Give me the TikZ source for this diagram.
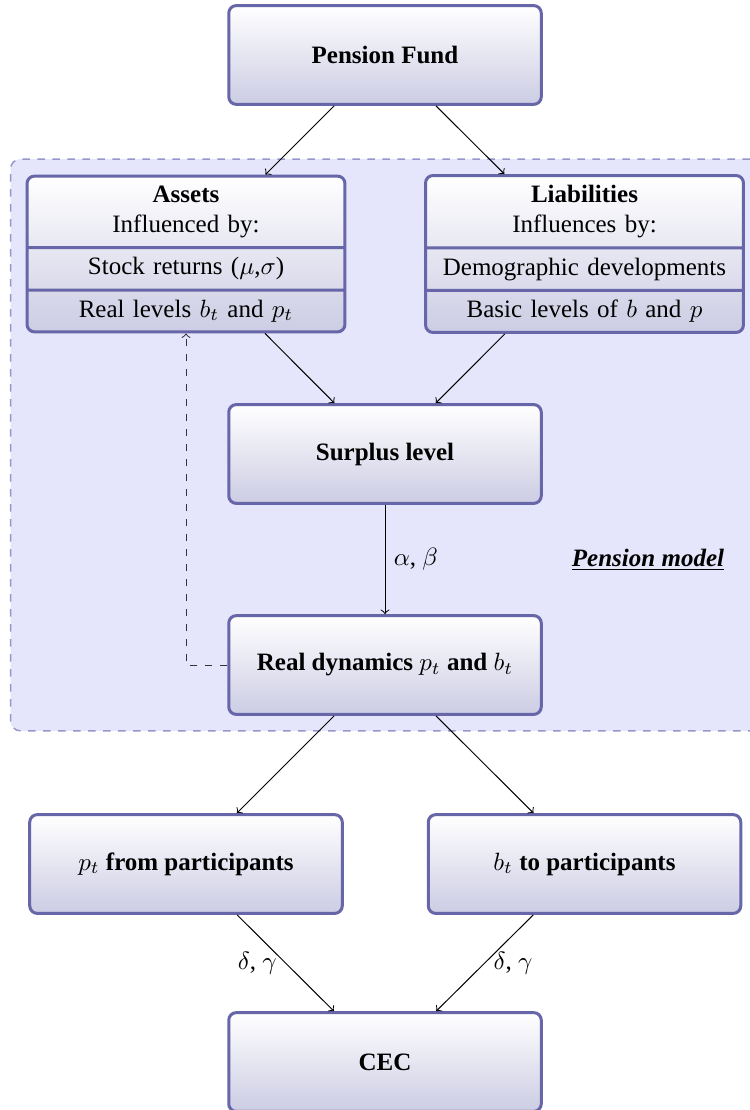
\documentclass[tikz,border=0pt]{standalone}
\usepackage{fontspec}
\setmainfont{Liberation Serif}
\usetikzlibrary{shapes.multipart,fit,backgrounds}
\definecolor{boxdraw}{RGB}{102,102,168}
\definecolor{boxbottom}{RGB}{204,204,228}
\definecolor{modelfill}{RGB}{229,229,251}
\definecolor{modeldraw}{RGB}{150,150,205}
\begin{document}
\begin{tikzpicture}[x=0.4pt,y=-0.4pt,
  box/.style={draw=boxdraw, very thick, rounded corners=3pt,
    top color=white, bottom color=boxbottom,
    minimum width=125pt, minimum height=39.5pt, font=\bfseries, align=center},
  splitbox/.style={rectangle split, rectangle split parts=3,
    draw=boxdraw, very thick, rounded corners=3pt,
    top color=white, bottom color=boxbottom,
    text width=120.5pt, align=center},
  conn/.style={->, black},
  feedback/.style={->, dashed, black!80},
  modelbox/.style={draw=modeldraw, semithick, dashed, fill=modelfill, rounded corners=4pt, inner sep=6pt},
  ]
\clip (0,0) rectangle (749,1110);

\node[box] (pf) at (385,55) {Pension Fund};
\node[splitbox] (assets) at (186,254)
  {\textbf{Assets}\\Influenced by:\nodepart{two}Stock returns ($\mu$,$\sigma$)\nodepart{three}Real levels $b_t$ and $p_t$};
\node[splitbox] (liab) at (584.5,254)
  {\textbf{Liabilities}\\Influences by:\nodepart{two}Demographic developments\nodepart{three}Basic levels of $b$ and $p$};
\node[box] (surplus) at (385,454) {Surplus level};
\node[box] (real) at (385,665) {Real dynamics $p_t$ and $b_t$};
\node[box] (ptfrom) at (186,864) {$p_t$ from participants};
\node[box] (btto) at (584.5,864) {$b_t$ to participants};
\node[box] (cec) at (385,1062) {CEC};

\begin{scope}[on background layer]
  \node[modelbox, fit=(assets)(liab)(real)] (model) {};
\end{scope}
\node (modellabel) at (648,560) {\underline{\textbf{\textit{Pension model}}}};

\draw[conn] (pf) -- (assets);
\draw[conn] (pf) -- (liab);
\draw[conn] (assets) -- (surplus);
\draw[conn] (liab) -- (surplus);
\draw[conn] (surplus) -- node[right] {$\alpha$, $\beta$} (real);
\draw[feedback] (real.west) -| (assets.south);
\draw[conn] (real) -- (ptfrom);
\draw[conn] (real) -- (btto);
\draw[conn] (ptfrom) -- node[left] {$\delta$, $\gamma$} (cec);
\draw[conn] (btto) -- node[right] {$\delta$, $\gamma$} (cec);
\end{tikzpicture}
\end{document}
